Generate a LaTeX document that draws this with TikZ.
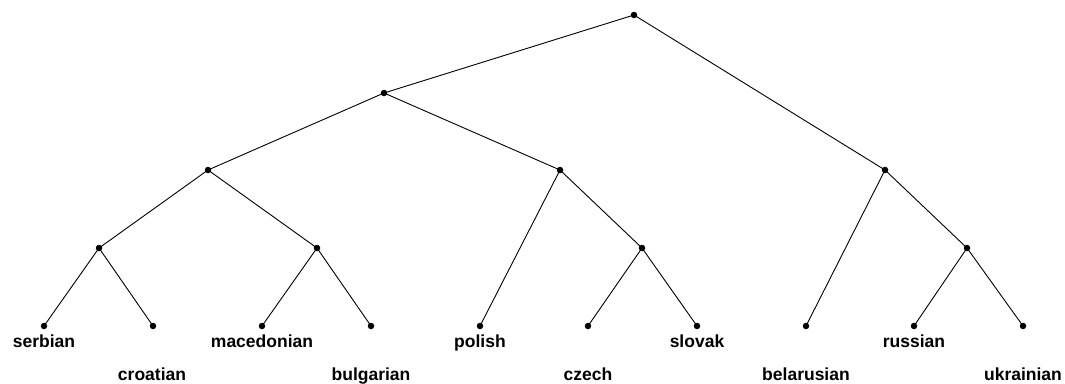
\documentclass[tikz,border=0pt]{standalone}
\usepackage{fontspec}
\setmainfont{Liberation Sans}
\begin{document}
\begin{tikzpicture}[x=1pt,y=-1pt,
  dot/.style={circle,fill=black,inner sep=0pt,minimum size=6.5pt},
  lab/.style={font=\bfseries\fontsize{17.5}{19}\selectfont,inner sep=0pt,anchor=base},
  edge/.style={draw=black,line width=0.9pt}]
\useasboundingbox (0,0) rectangle (1065,383);
\fill[white] (0,0) rectangle (1065,383);
\node[dot] (r) at (634,15) {};
\node[dot] (a) at (384,93) {};
\node[dot] (b) at (885,170) {};
\node[dot] (c) at (208,170) {};
\node[dot] (d) at (560,170) {};
\node[dot] (e) at (99,248) {};
\node[dot] (f) at (317,248) {};
\node[dot] (g) at (642,248) {};
\node[dot] (h) at (967,248) {};
\node[dot] (l1) at (44,326) {};
\node[dot] (l2) at (153,326) {};
\node[dot] (l3) at (262,326) {};
\node[dot] (l4) at (371,326) {};
\node[dot] (l5) at (480,326) {};
\node[dot] (l6) at (588,326) {};
\node[dot] (l7) at (697,326) {};
\node[dot] (l8) at (806,326) {};
\node[dot] (l9) at (914,326) {};
\node[dot] (l10) at (1023,326) {};
\draw[edge] (r.center) -- (a.center);
\draw[edge] (r.center) -- (b.center);
\draw[edge] (a.center) -- (c.center);
\draw[edge] (a.center) -- (d.center);
\draw[edge] (c.center) -- (e.center);
\draw[edge] (c.center) -- (f.center);
\draw[edge] (d.center) -- (l5.center);
\draw[edge] (d.center) -- (g.center);
\draw[edge] (b.center) -- (l8.center);
\draw[edge] (b.center) -- (h.center);
\draw[edge] (e.center) -- (l1.center);
\draw[edge] (e.center) -- (l2.center);
\draw[edge] (f.center) -- (l3.center);
\draw[edge] (f.center) -- (l4.center);
\draw[edge] (g.center) -- (l6.center);
\draw[edge] (g.center) -- (l7.center);
\draw[edge] (h.center) -- (l9.center);
\draw[edge] (h.center) -- (l10.center);
\node[lab] (t1) at (44,347.5) {serbian};
\node[lab] (t2) at (152,380) {croatian};
\node[lab] (t3) at (262,347.5) {macedonian};
\node[lab] (t4) at (371,380) {bulgarian};
\node[lab] (t5) at (480,347.5) {polish};
\node[lab] (t6) at (588,380) {czech};
\node[lab] (t7) at (697,347.5) {slovak};
\node[lab] (t8) at (806,380) {belarusian};
\node[lab] (t9) at (914,347.5) {russian};
\node[lab] (t10) at (1023,380) {ukrainian};
\end{tikzpicture}
\end{document}
